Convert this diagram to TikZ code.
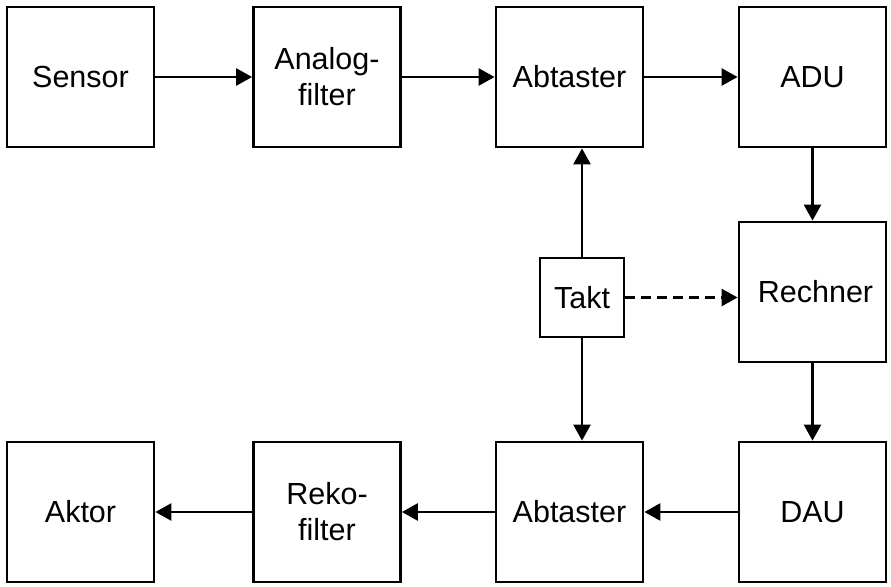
\documentclass[tikz,border=0pt]{standalone}
\usepackage{fontspec}
\setmainfont{Liberation Sans}
\usetikzlibrary{arrows.meta}
\begin{document}
\begin{tikzpicture}[x=1pt,y=-1pt,
  blk/.style={draw, line width=2.8pt, rectangle, inner sep=0pt, minimum width=147pt, minimum height=140pt,
    align=center, font=\fontsize{30.5}{36}\selectfont},
  conn/.style={line width=2.6pt, -{Triangle[length=16pt,width=17pt]}}]
\useasboundingbox (0,0) rectangle (891,586);
\node[blk] (sensor) at (80.5,77) {Sensor};
\node[blk] (analog) at (327,77) {Analog-\\filter};
\node[blk] (abt1) at (569.5,77) {Abtaster};
\node[blk] (adu) at (812.5,77) {ADU};
\node[blk] (rechner) at (812.5,292) {\hspace*{6pt}Rechner};
\node[blk, minimum width=84pt, minimum height=79pt] (takt) at (582,297.5) {Takt};
\node[blk] (aktor) at (80.5,512) {Aktor};
\node[blk] (reko) at (327,512) {Reko-\\filter};
\node[blk] (abt2) at (569.5,512) {Abtaster};
\node[blk] (dau) at (812.5,512) {DAU};
\draw[conn] (sensor) -- (analog);
\draw[conn] (analog) -- (abt1);
\draw[conn] (abt1) -- (adu);
\draw[conn] (adu) -- (rechner);
\draw[conn] (rechner) -- (dau);
\draw[conn] (dau) -- (abt2);
\draw[conn] (abt2) -- (reko);
\draw[conn] (reko) -- (aktor);
\draw[conn] (takt.north) -- (takt.north |- abt1.south);
\draw[conn] (takt.south) -- (takt.south |- abt2.north);
\draw[conn, dash pattern=on 10pt off 6pt] (takt.east) -- (takt.east -| rechner.west);
\end{tikzpicture}
\end{document}
